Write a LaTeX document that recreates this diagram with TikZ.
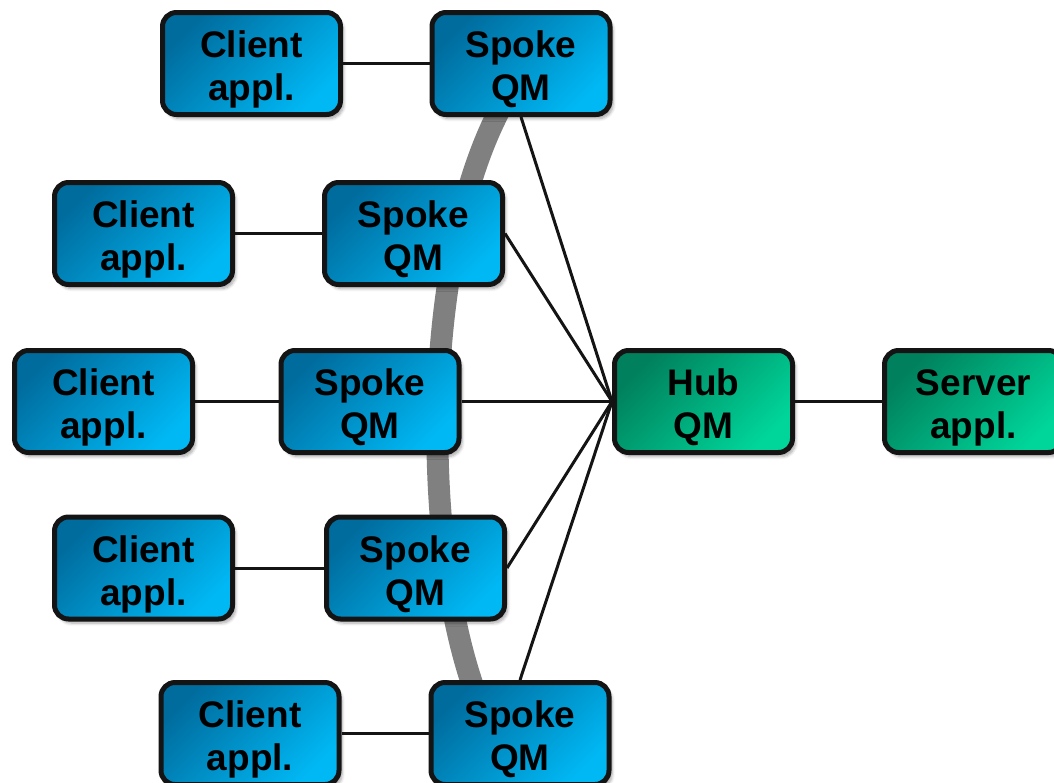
\documentclass[tikz,border=0pt]{standalone}
\usepackage{fontspec}
\setmainfont{Liberation Sans}
\usetikzlibrary{shadows.blur,backgrounds}
\definecolor{bluedark}{RGB}{0,108,158}
\definecolor{bluelight}{RGB}{0,184,244}
\definecolor{greendark}{RGB}{0,128,92}
\definecolor{greenlight}{RGB}{0,214,154}
\definecolor{arcgray}{RGB}{128,128,128}
\newcommand\twolines[2]{\rule{0pt}{39pt}#1\\#2}
\tikzset{
  box/.style={draw=black!92, line width=5pt, rounded corners=14pt,
    minimum width=178pt, minimum height=102pt, inner sep=0pt, align=center,
    font=\bfseries\fontsize{37}{43}\selectfont,
    blur shadow={shadow xshift=3pt, shadow yshift=-4pt, shadow blur steps=6,
      shadow blur radius=3pt, shadow opacity=35}},
  bluebox/.style={box, left color=bluedark, right color=bluelight, shading angle=45},
  greenbox/.style={box, left color=greendark, right color=greenlight, shading angle=45},
  conn/.style={draw=black!92, line width=3pt},
  ring/.style={draw=arcgray, line width=22pt}
}
\begin{document}
\begin{tikzpicture}[x=1pt,y=-1pt]
\useasboundingbox (0,0) rectangle (1054,782);
\node[bluebox] (c1) at (251.5,63.5) {\twolines{Client}{appl.}};
\node[bluebox] (s1) at (521,63.5) {\twolines{Spoke}{QM}};
\node[bluebox] (c2) at (143.5,233.5) {\twolines{Client}{appl.}};
\node[bluebox] (s2) at (413.5,233.5) {\twolines{Spoke}{QM}};
\node[bluebox] (c3) at (103.5,401.5) {\twolines{Client}{appl.}};
\node[bluebox] (s3) at (370,401.5) {\twolines{Spoke}{QM}};
\node[greenbox] (hub) at (703.5,401.5) {\twolines{Hub}{QM}};
\node[greenbox] (srv) at (973.5,401.5) {\twolines{Server}{appl.}};
\node[bluebox] (c4) at (143.5,568) {\twolines{Client}{appl.}};
\node[bluebox] (s4) at (415.5,568) {\twolines{Spoke}{QM}};
\node[bluebox] (c5) at (250,733.5) {\twolines{Client}{appl.}};
\node[bluebox] (s5) at (520,733.5) {\twolines{Spoke}{QM}};
\begin{scope}[on background layer]
\draw[ring] (505,100) .. controls (420,250) and (420,550) .. (478,700);
\end{scope}
\draw[conn] (c1) -- (s1);
\draw[conn] (c2) -- (s2);
\draw[conn] (c3) -- (s3);
\draw[conn] (c4) -- (s4);
\draw[conn] (c5) -- (s5);
\draw[conn] (hub) -- (srv);
\draw[conn] (s1.south) -- (hub.west);
\draw[conn] (s2.east) -- (hub.west);
\draw[conn] (s3.east) -- (hub.west);
\draw[conn] (s4.east) -- (hub.west);
\draw[conn] (s5.north) -- (hub.west);
\end{tikzpicture}
\end{document}
